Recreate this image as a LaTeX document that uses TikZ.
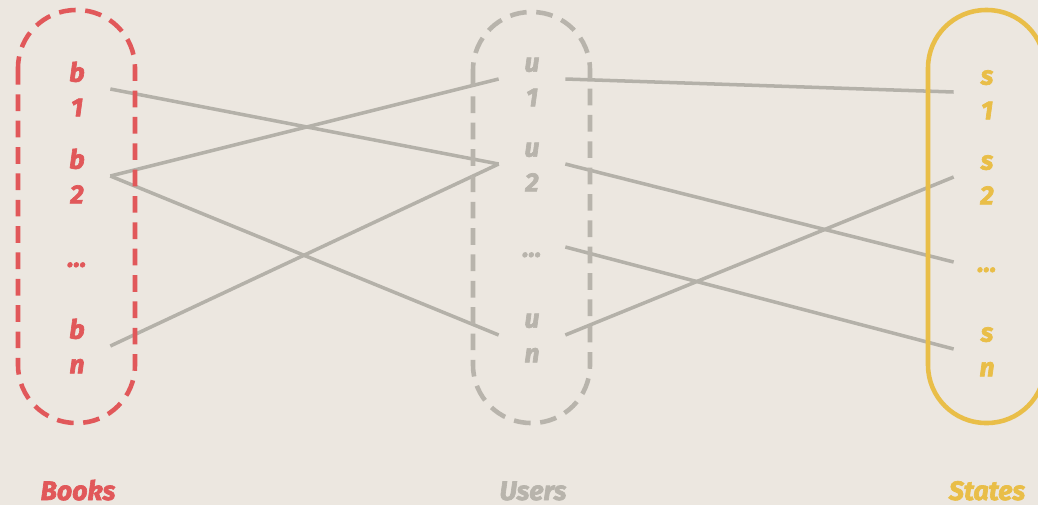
\documentclass[tikz,border=0pt]{standalone}
\usepackage{fontspec}
\setmainfont{Fira Sans}[BoldItalicFeatures={FakeBold=2.5}]
\usetikzlibrary{positioning}

\definecolor{paper}{RGB}{236,231,224}
\definecolor{bookred}{RGB}{225,88,90}
\definecolor{usergray}{RGB}{184,180,172}
\definecolor{stateyellow}{RGB}{233,190,72}
\definecolor{linkgray}{RGB}{180,177,169}

\newcommand{\elemtext}[2]{#1\vphantom{b}\\#2}

\tikzset{
  elem/.style={font=\fontsize{15}{19.8}\selectfont\bfseries\itshape,
    align=center, minimum width=1.32cm, inner sep=0pt},
  settitle/.style={font=\fontsize{15.2}{18}\selectfont\bfseries\itshape, anchor=base},
  link/.style={draw=linkgray, line width=2pt},
  bag/.style={line width=2.6pt, rounded corners=1.16cm},
  dashedbag/.style={bag, dash pattern=on 9.5pt off 5.5pt},
}

\begin{document}
\begin{tikzpicture}[x=0.02cm,y=-0.02cm]
  \fill[paper] (0,0) rectangle (1038,505);
  \useasboundingbox (0,0) rectangle (1038,505);

  % books
  \begin{scope}[bookred]
    \node[elem] (b1) at (77,89) {\elemtext{b}{1}};
    \node[elem] (b2) at (77,176) {\elemtext{b}{2}};
    \node[elem] (bd) at (77,257) {\vphantom{b}...};
    \node[elem] (bn) at (77,346) {\elemtext{b}{n}};
    \node[settitle] (books) at (78,500) {Books};
  \end{scope}
  % users
  \begin{scope}[usergray]
    \node[elem] (u1) at (532,79) {\elemtext{u}{1}};
    \node[elem] (u2) at (532,164) {\elemtext{u}{2}};
    \node[elem] (ud) at (532,247) {\vphantom{b}...};
    \node[elem] (un) at (532,335) {\elemtext{u}{n}};
    \node[settitle] (users) at (533,500) {Users};
  \end{scope}
  % states
  \begin{scope}[stateyellow]
    \node[elem] (s1) at (987,92) {\elemtext{s}{1}};
    \node[elem] (s2) at (987,177) {\elemtext{s}{2}};
    \node[elem] (sd) at (987,262) {\vphantom{b}...};
    \node[elem] (sn) at (987,349) {\elemtext{s}{n}};
    \node[settitle] (states) at (987,500) {States};
  \end{scope}

  \draw[link] (b1.east) -- (u2.west);
  \draw[link] (b2.east) -- (u1.west);
  \draw[link] (b2.east) -- (un.west);
  \draw[link] (bn.east) -- (u2.west);
  \draw[link] (u1.east) -- (s1.west);
  \draw[link] (u2.east) -- (sd.west);
  \draw[link] (ud.east) -- (sn.west);
  \draw[link] (un.east) -- (s2.west);

  \draw[dashedbag, bookred] (18,10) rectangle (135,423);
  \draw[dashedbag, usergray] (473,12) rectangle (590,423);
  \draw[bag, stateyellow] (928,10) rectangle (1045,423);
\end{tikzpicture}
\end{document}
